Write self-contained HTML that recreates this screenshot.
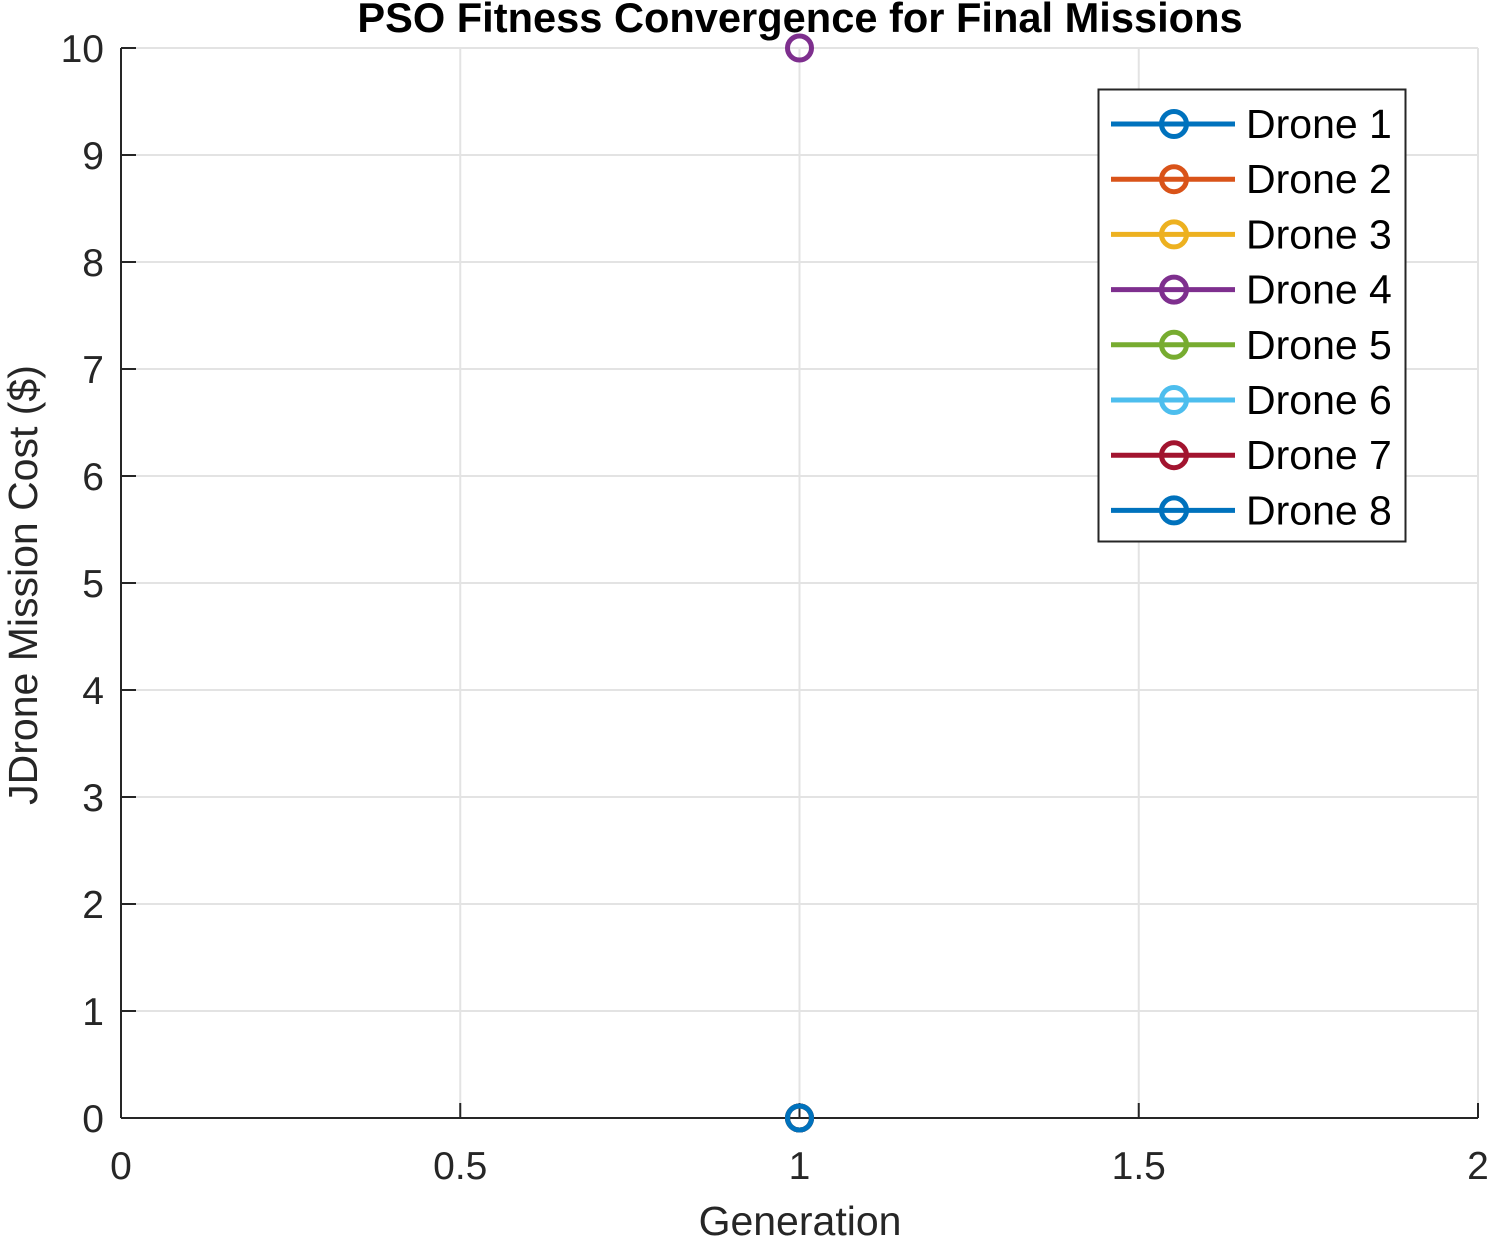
<!DOCTYPE html>
<html><head><meta charset="utf-8"><style>
html,body{margin:0;padding:0;background:#fff;}
svg text{font-family:"Liberation Sans",Arial,sans-serif;}
</style></head><body>
<svg id="chart" width="1491" height="1239" xmlns="http://www.w3.org/2000/svg">
<g id="grid"></g>
<g id="axes"></g>
<g id="series"></g>
<text x="800" y="32" text-anchor="middle" font-size="41.6" font-weight="bold" fill="#000">PSO Fitness Convergence for Final Missions</text>
<text x="800" y="1235" text-anchor="middle" font-size="41" fill="#262626">Generation</text>
<text transform="translate(37,585) rotate(-90)" text-anchor="middle" font-size="41" fill="#262626">JDrone Mission Cost ($)</text>
<g id="legend"></g>
</svg>
<script>
const seriesNames = ["Drone 1","Drone 2","Drone 3","Drone 4","Drone 5","Drone 6","Drone 7","Drone 8"];
const seriesColors = ["#0072BD","#D95319","#EDB120","#7E2F8E","#77AC30","#4DBEEE","#A2142F","#0072BD"];
const generations = [1];
const droneValues = [[0],[0],[0],[10],[0],[0],[0],[0]];
const xTicks = [0,0.5,1,1.5,2];
const xTickLabels = ["0","0.5","1","1.5","2"];
const yTicks = [0,1,2,3,4,5,6,7,8,9,10];
const yTickLabels = ["0","1","2","3","4","5","6","7","8","9","10"];

const NS="http://www.w3.org/2000/svg";
const L=121,R=1478,T=48,B=1118;
const xs=v=>L+(v-0)/(2-0)*(R-L);
const ys=v=>B-(v-0)/(10-0)*(B-T);
function mk(tag,attrs,parent){const e=document.createElementNS(NS,tag);for(const k in attrs)e.setAttribute(k,attrs[k]);parent.appendChild(e);return e;}
const grid=document.getElementById('grid'),axes=document.getElementById('axes'),ser=document.getElementById('series'),leg=document.getElementById('legend');
xTicks.forEach((t,i)=>{
  const g=mk('line',{x1:xs(t),x2:xs(t),y1:T,y2:B,stroke:'#e3e3e3','stroke-width':2},grid);
  
  
  const tk=mk('line',{x1:xs(t),x2:xs(t),y1:B,y2:B-15,stroke:'#262626','stroke-width':2},axes);
  
  
  const tx=mk('text',{x:xs(t),y:1179,'text-anchor':'middle','font-size':39,fill:'#262626'},axes);
  tx.textContent=xTickLabels[i];
  
  
});
yTicks.forEach((t,i)=>{
  const g=mk('line',{x1:L,x2:R,y1:ys(t),y2:ys(t),stroke:'#e3e3e3','stroke-width':2},grid);
  
  
  const tk=mk('line',{x1:L,x2:L+15,y1:ys(t),y2:ys(t),stroke:'#262626','stroke-width':2},axes);
  
  
  const tx=mk('text',{x:104,y:ys(t)+14,'text-anchor':'end','font-size':39,fill:'#262626'},axes);
  tx.textContent=yTickLabels[i];
  
  
});
const xa=mk('line',{x1:L,x2:R,y1:B,y2:B,stroke:'#262626','stroke-width':2},axes);


const ya=mk('line',{x1:L,x2:L,y1:T,y2:B,stroke:'#262626','stroke-width':2},axes);


droneValues.forEach((vals,s)=>{
  vals.forEach((v,j)=>{
    const c=mk('circle',{cx:xs(generations[j]),cy:ys(v),r:12,fill:'none',stroke:seriesColors[s],'stroke-width':5},ser);
    
    
  });
});
const box=mk('rect',{x:1098.5,y:89.5,width:307,height:452,fill:'#fff',stroke:'#262626','stroke-width':2},leg);


seriesNames.forEach((n,i)=>{
  const y=124+i*55.2;
  const g=mk('g',{},leg);
  
  
  mk('line',{x1:1111,x2:1235,y1:y,y2:y,stroke:seriesColors[i],'stroke-width':5},g);
  mk('circle',{cx:1174,cy:y,r:12.5,fill:'none',stroke:seriesColors[i],'stroke-width':5},g);
  const t=mk('text',{x:1246,y:y+14,'font-size':41,fill:'#000'},g);
  t.textContent=n;
});
</script>
</body></html>
